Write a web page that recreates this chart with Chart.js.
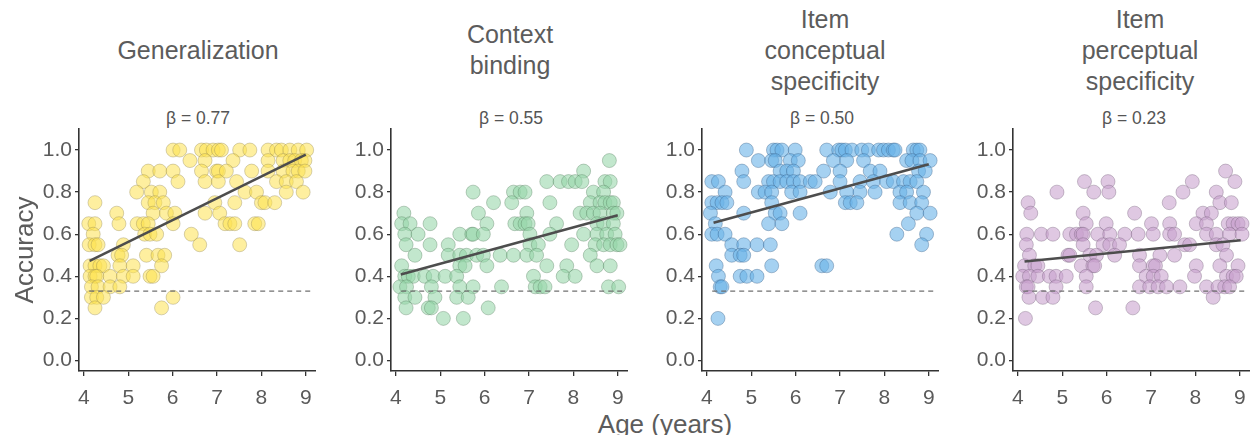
<!DOCTYPE html>
<html>
<head>
<meta charset="utf-8">
<script src="https://cdn.jsdelivr.net/npm/chart.js@4.4.1/dist/chart.umd.min.js"></script>
<style>
  html, body { margin:0; padding:0; background:#fff; }
  body { width:1250px; height:435px; position:relative; overflow:hidden; font-family:"Liberation Sans", Arial, sans-serif; color:#595959; }
  canvas { position:absolute; }
  .title { position:absolute; top:50px; transform:translate(-50%,-50%); text-align:center; font-size:25px; line-height:31px; white-space:nowrap; color:#5c5c5c; }
  .beta { position:absolute; top:118px; transform:translate(-50%,-50%); font-size:17.5px; white-space:nowrap; color:#555; }
  .xlab { position:absolute; left:665px; top:409px; transform:translateX(-50%); font-size:26px; line-height:30px; white-space:nowrap; color:#5c5c5c; }
</style>
</head>
<body>
<script>
// ---------------- data ----------------
const PANEL_TITLES = [["Generalization"], ["Context", "binding"], ["Item", "conceptual", "specificity"], ["Item", "perceptual", "specificity"]];
const BETA_LABELS = ["β = 0.77", "β = 0.55", "β = 0.50", "β = 0.23"];
const AGE_TICKS = [4, 5, 6, 7, 8, 9];
const ACC_TICKS = [0.0, 0.2, 0.4, 0.6, 0.8, 1.0];
const CHANCE = 0.33;
const CHANCE_RANGE = [4.12, 9.15];

// rows: [accuracy, [ages...]]
const genRows = [
  [1.00, [6.01,6.16,6.65,6.76,6.91,7.03,7.10,7.51,7.74,8.15,8.34,8.45,8.64,8.83,9.02]],
  [0.95, [6.39,6.73,7.36,8.15,8.49,8.64,8.75,8.90,8.98]],
  [0.90, [5.45,5.71,6.01,6.65,6.99,7.03,7.21,7.78,8.15,8.49,8.71,8.83,8.98]],
  [0.85, [5.34,6.12,6.73,7.03,7.44,8.34,8.56,8.79]],
  [0.80, [5.19,5.52,5.71,7.63,7.89,8.56,8.94]],
  [0.75, [4.25,5.45,5.60,5.79,6.95,7.40,8.00,8.08,8.30]],
  [0.70, [4.74,5.56,5.86,6.05,6.73,7.06]],
  [0.65, [4.11,4.25,4.79,5.20,5.34,5.45,6.01,7.18,7.29,7.40,7.85,7.93]],
  [0.60, [4.21,5.37,5.49,5.64,6.42]],
  [0.55, [4.12,4.25,4.32,4.89,6.61,7.51]],
  [0.50, [4.77,4.85,5.41,5.67,5.82]],
  [0.45, [4.14,4.25,4.36,4.44,4.81,5.11,5.75]],
  [0.40, [4.14,4.25,4.29,4.59,4.89,5.11,5.49,5.56]],
  [0.35, [4.17,4.32,4.59,4.81]],
  [0.30, [4.17,4.29,4.44,6.01]],
  [0.25, [4.25,5.75]]
];
const bindRows = [
  [0.95, [8.81]],
  [0.90, [8.23]],
  [0.85, [7.40,7.70,7.89,8.04,8.19,8.71,8.83]],
  [0.80, [5.74,6.65,6.80,6.91,8.45,8.68]],
  [0.75, [6.20,6.61,7.47,8.38,8.60,8.71,8.83,8.90]],
  [0.70, [4.18,5.86,6.95,8.15,8.30,8.45,8.60,8.90,8.98]],
  [0.65, [4.13,4.32,4.77,6.05,6.68,6.80,6.91,6.98,7.62,8.53,8.68,8.90]],
  [0.60, [4.20,4.50,5.44,5.71,5.74,5.97,7.02,7.47,8.23,8.53,8.75,8.94]],
  [0.55, [4.23,4.77,5.18,7.02,7.21,7.96,8.49,8.68,8.83,8.98,9.05]],
  [0.50, [4.43,5.18,5.44,5.59,5.82,5.97,6.35,6.65,6.95,7.17,8.38]],
  [0.45, [4.13,5.44,5.56,6.05,7.40,7.85,8.53,8.83]],
  [0.40, [4.20,4.28,4.39,4.65,4.84,5.11,5.37,7.10,7.77,8.04]],
  [0.35, [4.09,4.24,4.80,5.44,5.74,6.38,7.14,7.25,7.36,8.79,9.02]],
  [0.30, [4.20,4.43,4.88,5.37,5.63]],
  [0.25, [4.23,4.73,4.80,6.08]],
  [0.20, [5.07,5.52]]
];
const concRows = [
  [1.00, [4.89,5.50,5.58,5.69,5.99,6.70,6.97,7.04,7.12,7.27,7.49,7.64,7.87,7.98,8.09,8.20,8.24,8.65,8.73,8.80]],
  [0.95, [5.16,5.46,5.54,5.88,6.06,6.85,7.15,7.53,8.50,8.62,8.80,9.03]],
  [0.90, [4.79,5.65,5.80,5.95,6.63,7.00,7.68,7.90,8.77,8.92]],
  [0.85, [4.11,4.26,4.83,5.39,5.50,5.65,5.80,5.95,6.10,6.33,6.44,7.00,7.45,7.75,8.05,8.20,8.43,8.58,8.73]],
  [0.80, [4.41,5.16,5.31,5.46,5.91,6.10,6.78,7.15,7.45,7.79,8.35,8.50,8.88]],
  [0.75, [4.11,4.23,4.34,4.45,5.46,7.12,7.23,7.38,8.35,8.58,8.84]],
  [0.70, [4.08,4.83,5.54,5.65,6.10,8.73,9.03]],
  [0.65, [4.19,5.39,5.69,8.54]],
  [0.60, [4.11,4.23,4.41,8.28,8.95]],
  [0.55, [4.56,4.83,5.13,5.43,8.84]],
  [0.50, [4.56,4.75,4.83]],
  [0.45, [4.21,5.46,6.59,6.70]],
  [0.40, [4.26,4.75,4.90,5.13]],
  [0.35, [4.30,4.34]],
  [0.20, [4.25]]
];
const percRows = [
  [0.90, [8.68]],
  [0.85, [5.50,6.03,7.93,8.89]],
  [0.80, [4.88,5.71,6.05,7.72,8.47]],
  [0.75, [4.23,7.41,8.55,8.81]],
  [0.70, [4.29,5.47,6.63,8.17,8.36]],
  [0.65, [5.54,5.99,7.01,7.42,8.02,8.25,8.74,8.85,8.96,9.05]],
  [0.60, [4.20,4.53,4.79,5.17,5.32,5.43,5.47,5.80,6.07,6.41,6.71,7.05,7.42,7.53,8.25,8.47,8.77,9.05]],
  [0.55, [4.19,5.47,5.92,6.07,6.29,7.76,7.87,8.47,8.62]],
  [0.50, [4.26,5.13,5.17,5.62,5.77,6.18,6.74,7.20,7.53,8.70]],
  [0.45, [4.15,4.38,4.45,5.43,5.69,5.73,6.74,7.05,7.10,8.02,8.55,8.96]],
  [0.40, [4.11,4.26,4.45,4.71,4.86,5.09,5.54,6.89,7.05,7.23,7.98,8.70,8.85,8.92]],
  [0.35, [4.19,4.23,4.86,5.54,6.74,6.97,7.16,7.35,7.65,8.25,8.51,8.66,8.77]],
  [0.30, [4.25,4.56,4.79,8.40]],
  [0.25, [5.75,6.59]],
  [0.20, [4.17]]
];

// regression line end points [age, accuracy]
const genFit  = [[4.13, 0.473], [9.00, 0.978]];
const bindFit = [[4.11, 0.408], [9.00, 0.690]];
const concFit = [[4.15, 0.655], [9.00, 0.932]];
const percFit = [[4.15, 0.470], [9.02, 0.571]];

const PANEL_ROWS = [genRows, bindRows, concRows, percRows];
const PANEL_FITS = [genFit, bindFit, concFit, percFit];
const FILLS = ["rgba(253,226,80,0.55)", "rgba(150,214,168,0.58)", "rgba(105,178,232,0.6)", "rgba(200,160,205,0.58)"];
const STROKES = ["rgba(140,130,80,0.35)", "rgba(80,120,90,0.35)", "rgba(50,90,130,0.36)", "rgba(110,90,115,0.35)"];

// ---------------- layout ----------------
const PLOT_LEFT = [79, 391, 702, 1013];
const PLOT_W = 237;
const TITLE_X = [198, 510, 825, 1140];
const BETA_X = [198, 511, 822, 1134];
const FONT = '"Liberation Sans", Arial, sans-serif';
const TXT = '#5a5a5a';
const AXC = '#333333';

for (let i = 0; i < 4; i++) {
  const t = document.createElement('div');
  t.className = 'title';
  t.style.left = TITLE_X[i] + 'px';
  t.innerHTML = PANEL_TITLES[i].join('<br>');
  document.body.appendChild(t);
  const b = document.createElement('div');
  b.className = 'beta';
  b.style.left = BETA_X[i] + 'px';
  b.textContent = BETA_LABELS[i];
  document.body.appendChild(b);
}
const xl = document.createElement('div');
xl.className = 'xlab';
xl.textContent = 'Age (years)';
document.body.appendChild(xl);

Chart.defaults.font.family = FONT;
Chart.defaults.color = TXT;

for (let i = 0; i < 4; i++) {
  const yW = i === 0 ? 79 : 55;
  const cv = document.createElement('canvas');
  const cw = yW + PLOT_W, ch = 290;
  cv.width = cw; cv.height = ch;
  cv.style.width = cw + 'px'; cv.style.height = ch + 'px';
  cv.style.left = (PLOT_LEFT[i] - yW) + 'px';
  cv.style.top = '120px';
  document.body.appendChild(cv);

  const pts = [];
  PANEL_ROWS[i].forEach(([acc, ages]) => ages.forEach(a => pts.push({x: a, y: acc})));
  const fit = PANEL_FITS[i].map(([a, v]) => ({x: a, y: v}));

  new Chart(cv, {
    type: 'scatter',
    data: {
      datasets: [
        { type: 'line', data: fit, borderColor: '#4d4d4d', borderWidth: 2.6, pointRadius: 0, fill: false },
        { type: 'line', data: CHANCE_RANGE.map(a => ({x: a, y: CHANCE})), borderColor: '#707070', borderWidth: 1.3, borderDash: [5, 4], pointRadius: 0, fill: false },
        { data: pts, backgroundColor: FILLS[i], borderColor: STROKES[i], borderWidth: 1, pointRadius: 7, pointHoverRadius: 7 }
      ]
    },
    options: {
      responsive: false,
      animation: false,
      devicePixelRatio: 1,
      layout: { autoPadding: false, padding: { top: 9, right: 0, left: 0, bottom: 0 } },
      plugins: { legend: { display: false }, tooltip: { enabled: false } },
      scales: {
        x: {
          type: 'linear', min: 3.89, max: 9.23,
          afterBuildTicks: s => { s.ticks = AGE_TICKS.map(v => ({value: v})); },
          afterFit: s => { s.height = 39; s.paddingLeft = 0; s.paddingRight = 0; },
          grid: { display: true, drawOnChartArea: false, drawTicks: true, tickLength: 5, color: AXC, lineWidth: 1.3 },
          border: { display: true, color: AXC, width: 1.6 },
          ticks: { color: TXT, font: { size: 21 }, padding: 10, maxRotation: 0, callback: v => String(v) }
        },
        y: {
          type: 'linear', min: -0.05, max: 1.1,
          afterBuildTicks: s => { s.ticks = ACC_TICKS.map(v => ({value: v})); },
          afterFit: s => { s.width = yW; s.paddingTop = 0; s.paddingBottom = 0; },
          grid: { display: true, drawOnChartArea: false, drawTicks: true, tickLength: 4, color: AXC, lineWidth: 1.3 },
          border: { display: true, color: AXC, width: 1.6 },
          ticks: { color: TXT, font: { size: 21 }, padding: 3, callback: v => Number(v).toFixed(1) },
          title: { display: i === 0, text: 'Accuracy', color: '#5c5c5c', font: { size: 26 }, padding: { top: 10, bottom: 0 } }
        }
      }
    }
  });
}
</script>
</body>
</html>
